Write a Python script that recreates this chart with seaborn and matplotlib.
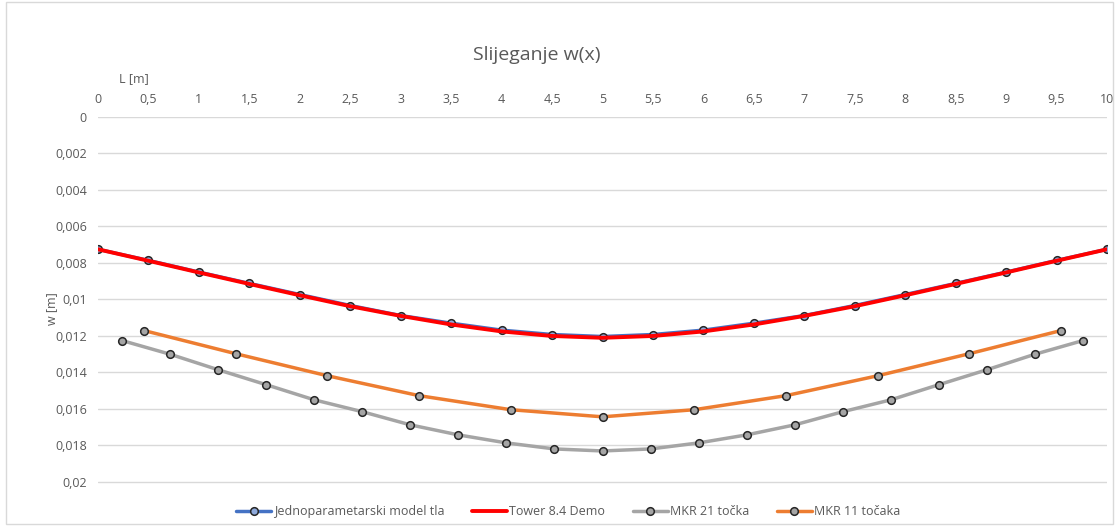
import numpy as np
import pandas as pd
import matplotlib.pyplot as plt
import seaborn as sns
from matplotlib.ticker import FuncFormatter, MultipleLocator
from matplotlib.patches import Rectangle

# data (w in mm, converted to m below)
x_21 = [0, 0.5, 1, 1.5, 2, 2.5, 3, 3.5, 4, 4.5, 5, 5.5, 6, 6.5, 7, 7.5, 8, 8.5, 9, 9.5, 10]
w_jedno = [7.25, 7.86, 8.5, 9.12, 9.73, 10.33, 10.88, 11.3, 11.68, 11.92, 12.03,
           11.92, 11.68, 11.3, 10.88, 10.33, 9.73, 9.12, 8.5, 7.86, 7.25]
w_tower = [7.25, 7.88, 8.52, 9.15, 9.77, 10.37, 10.9, 11.37, 11.75, 12.0, 12.1,
           12.0, 11.75, 11.37, 10.9, 10.37, 9.77, 9.15, 8.52, 7.88, 7.25]

x_mkr21 = [0.238, 0.714, 1.19, 1.667, 2.143, 2.619, 3.095, 3.571, 4.048, 4.524, 5.0,
           5.476, 5.952, 6.429, 6.905, 7.381, 7.857, 8.333, 8.81, 9.286, 9.762]
w_mkr21 = [12.25, 13.0, 13.85, 14.67, 15.5, 16.15, 16.87, 17.42, 17.86, 18.19, 18.3,
           18.19, 17.86, 17.42, 16.87, 16.15, 15.5, 14.67, 13.85, 13.0, 12.25]

x_mkr11 = [0.4545, 1.364, 2.273, 3.182, 4.091, 5.0, 5.909, 6.818, 7.727, 8.636, 9.545]
w_mkr11 = [11.7, 12.97, 14.18, 15.27, 16.04, 16.43, 16.04, 15.27, 14.18, 12.97, 11.7]

sns.set_style("white")
plt.rcParams['font.family'] = ['Open Sans', 'DejaVu Sans']

fig = plt.figure(figsize=(11.19, 5.26), dpi=100)
ax = fig.add_axes([0.0876, 0.049, 0.9017, 0.7286])

comma = FuncFormatter(lambda v, p: ('%g' % round(v, 6)).replace('.', ','))

mk = dict(marker='o', markersize=5.5, markeredgecolor='#262626', markeredgewidth=1.1)

# draw order: blue, red, gray, orange
sns.lineplot(x=x_21, y=np.array(w_jedno) / 1000, ax=ax, color='#4472c4', lw=2.5,
             markerfacecolor='#8ea9db', label='Jednoparametarski model tla', zorder=3, **mk)
sns.lineplot(x=x_21, y=np.array(w_tower) / 1000, ax=ax, color='#ff0000', lw=2.8,
             label='Tower 8.4 Demo', zorder=4)
sns.lineplot(x=x_mkr21, y=np.array(w_mkr21) / 1000, ax=ax, color='#a5a5a5', lw=2.5,
             markerfacecolor='#a5a5a5', label='MKR 21 točka', zorder=3, **mk)
sns.lineplot(x=x_mkr11, y=np.array(w_mkr11) / 1000, ax=ax, color='#ed7d31', lw=2.5,
             markerfacecolor='#a5a5a5', label='MKR 11 točaka', zorder=3, **mk)

ax.set_xlim(0, 10)
ax.set_ylim(0.021, 0)
ax.xaxis.set_major_locator(MultipleLocator(0.5))
ax.yaxis.set_major_locator(MultipleLocator(0.002))
ax.xaxis.set_major_formatter(comma)
ax.yaxis.set_major_formatter(comma)
ax.xaxis.tick_top()
ax.tick_params(axis='both', length=0, labelsize=9, colors='#595959', pad=8)
ax.grid(axis='y', color='#d9d9d9', lw=1)
ax.grid(axis='x', visible=False)
for s in ax.spines.values():
    s.set_visible(False)

ax.set_xlabel('')
ax.set_ylabel('w [m]', fontsize=9, color='#595959', labelpad=-2)
fig.text(0.12, 0.85, 'L [m]', fontsize=9, color='#595959', ha='center', va='center')
fig.text(0.48, 0.895, 'Slijeganje w(x)', fontsize=14, color='#595959', ha='center', va='center')

ax.legend(loc='center', ncol=4, frameon=False, fontsize=9, labelcolor='#595959',
          handlelength=2.8, handletextpad=0.2, columnspacing=2.2)
leg = ax.get_legend()
leg.set_bbox_to_anchor((0.508, 0.027), transform=fig.transFigure)

fig.patches.append(Rectangle((0.005, 0.003), 0.99, 0.994, transform=fig.transFigure,
                             fill=False, edgecolor='#d9d9d9', lw=1))

fig.savefig('out.png', dpi=100)
